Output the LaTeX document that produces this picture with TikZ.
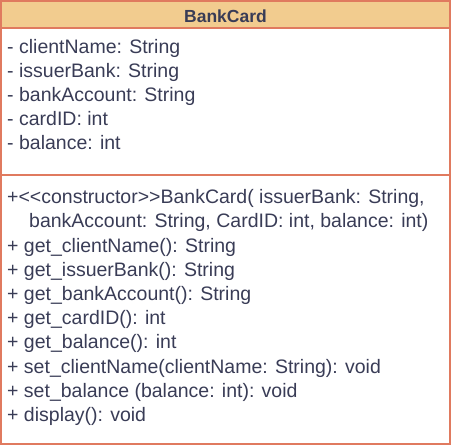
\documentclass[tikz,border=0pt]{standalone}
\usepackage{fontspec}
\setmainfont{Liberation Sans}[Ligatures=TeXOff]
\definecolor{hdrfill}{HTML}{F2CC8F}
\definecolor{strokec}{HTML}{E07A5F}
\definecolor{txtc}{HTML}{393C56}
\begin{document}
\begin{tikzpicture}[x=1pt,y=-1pt,
  line/.style={anchor=base west,inner sep=0pt,text=txtc,font=\fontsize{19.5}{21}\selectfont},
  box/.style={draw=strokec,line width=1.3pt}]
\useasboundingbox (0,0) rectangle (451,448);
\path[fill=hdrfill] (1,1) rectangle (450,28);
\draw[box] (1,1) rectangle (450,444);
\draw[box] (1,28) -- (450,28);
\draw[box] (1,175) -- (450,175);
\node[anchor=base,inner sep=0pt,text=txtc,font=\bfseries\fontsize{17.5}{20}\selectfont] (title) at (225.5,22) {BankCard};
\node[line] (a1) at (7,53) {- clientName: String};
\node[line] (a2) at (7,77) {- issuerBank: String};
\node[line] (a3) at (7,101) {- bankAccount: String};
\node[line] (a4) at (7,125) {- cardID: int};
\node[line] (a5) at (7,149) {- balance: int};
\node[line] (m1) at (7,203) {+<<constructor>>BankCard( issuerBank: String,};
\node[line] (m1b) at (29,227) {bankAccount: String, CardID: int, balance: int)};
\node[line] (m2) at (7,252) {+ get\_clientName(): String};
\node[line] (m3) at (7,276) {+ get\_issuerBank(): String};
\node[line] (m4) at (7,300) {+ get\_bankAccount(): String};
\node[line] (m5) at (7,324) {+ get\_cardID(): int};
\node[line] (m6) at (7,348) {+ get\_balance(): int};
\node[line] (m7) at (7,373) {+ set\_clientName(clientName: String): void};
\node[line] (m8) at (7,397) {+ set\_balance (balance: int): void};
\node[line] (m9) at (7,421) {+ display(): void};
\end{tikzpicture}
\end{document}
